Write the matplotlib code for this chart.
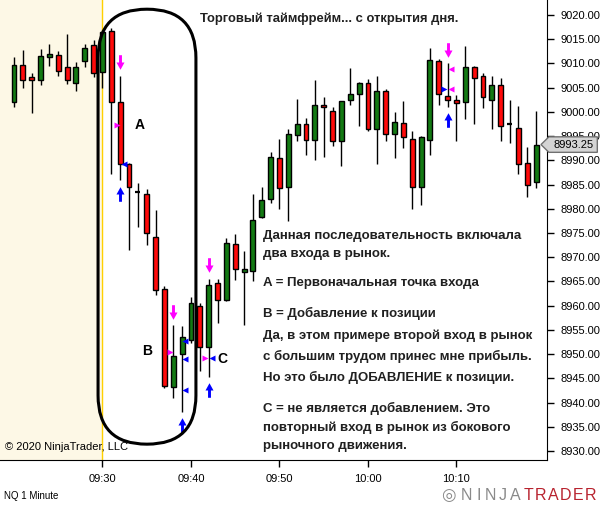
import numpy as np
import matplotlib
matplotlib.use("Agg")
import matplotlib.pyplot as plt
from matplotlib.path import Path
from matplotlib.patches import FancyBboxPatch, Polygon

plt.rcParams['font.family'] = ['Liberation Sans', 'DejaVu Sans']

# ============================================
# DATA  (NQ 1 minute, minutes relative to 09:30)
# ============================================
minutes = list(range(-10, 50))

opens = [9002, 9009.75, 9007.25, 9006.5, 9011.25, 9011.75, 9009.25, 9006, 9010.5, 9013.75,
         9008.25, 9016.75, 9002, 8989.25, 8983.5, 8983, 8974.25, 8963.5, 8943.25, 8950,
         8953, 8960, 8951.5, 8964.75, 8961.25, 8972.75, 8967, 8967.25, 8978.25, 8982,
         8990.5, 8984.5, 8995.25, 8997.5, 8994.25, 9001.5, 9000.25, 8994, 9002.5, 9003.75,
         9006, 8996.5, 9004.25, 8995.5, 8997.75, 8994.5, 8984.5, 8994.25, 9010.5, 9003.25,
         9002.5, 9002, 9009.25, 9007.5, 9002.5, 9005.5, 8997.5, 8996.75, 8989.5, 8985.5]
highs = [9011.25, 9012.75, 9008, 9013, 9014, 9012.5, 9016, 9010.25, 9014, 9014.75,
         9017, 9017.25, 9007.5, 8989.5, 8985.25, 8984, 8979.75, 8964, 8956, 8955.75,
         8961.75, 8960.5, 8965.5, 8965.5, 8974, 8974.75, 8971.25, 8983, 8984.5, 8991.75,
         8994.5, 8996.5, 9002.75, 8998.75, 9006.5, 9003, 9001, 9002.25, 9009, 9006.25,
         9006.75, 9007.5, 9004.75, 9000, 9002.25, 8996, 8995, 9013.25, 9011, 9010,
         9003.5, 9013.5, 9009.5, 9008, 9007.5, 9007, 9002.5, 9001.25, 8992.75, 9000.25]
lows = [9001, 9005, 8999.75, 9005.5, 9009.5, 9007.5, 9005.75, 9004.25, 9009.25, 9007.25,
        9005, 8987.25, 8986, 8971.5, 8976.25, 8972.5, 8962.25, 8943, 8941, 8938,
        8952.25, 8946.5, 8945.25, 8956.5, 8961, 8965.25, 8956, 8965, 8978, 8981.25,
        8980, 8977.5, 8994, 8991, 8990, 8990.75, 8993, 8988.75, 9001.5, 8997,
        8996, 8989.25, 8994, 8990.5, 8992.5, 8980, 8980.75, 8991, 9001.5, 9001,
        8994, 8998.5, 8997.5, 9000.75, 8996.5, 8994, 8993.5, 8987.25, 8982.5, 8984.25]
closes = [9009.75, 9006.5, 9006.5, 9011.5, 9012, 9008.5, 9006.5, 9009.25, 9013.25, 9008,
          9016.5, 9002, 8989.25, 8984.5, 8983.5, 8975, 8963.25, 8943.5, 8949.5, 8953.5,
          8960.5, 8951.5, 8964.25, 8961.25, 8973, 8967.5, 8967.5, 8977.75, 8981.75, 8990.75,
          8984.25, 8995.5, 8997.5, 8994.25, 9001.5, 9001, 8994, 9002.25, 9003.75, 9006,
          8996.5, 9004.25, 8995.5, 8998, 8994.75, 8984.5, 8994.75, 9010.75, 9003.75, 9002.5,
          9001.75, 9009.25, 9007, 9003, 9005.5, 8997, 8997.5, 8989.25, 8985, 8993.25]

# trade markers: minute of bar, price, kind
down_arrow_min = [2, 8, 12, 39]
down_arrow_px = [9010.3, 8958.7, 8968.4, 9012.8]
up_arrow_min = [2, 9, 12, 39]
up_arrow_px = [8983.0, 8935.4, 8942.6, 8998.3]
# (minute, price, marker, side, colour)
fills = [
    (2, 8997.3, '>', -1, 'magenta'),
    (2, 8989.2, '<', 1, 'blue'),
    (8, 8950.5, '>', -1, 'magenta'),
    (9, 8952.7, '<', 1, 'blue'),
    (9, 8948.9, '<', 1, 'blue'),
    (9, 8942.6, '<', 1, 'blue'),
    (12, 8949.25, '>', -1, 'magenta'),
    (12, 8949.25, '<', 1, 'blue'),
    (39, 9008.8, '<', 1, 'magenta'),
    (39, 9004.7, '>', -1, 'blue'),
    (39, 9004.7, '<', 1, 'magenta'),
]

tick_minutes = [0, 10, 20, 30, 40]
tick_labels = ['09:30', '09:40', '09:50', '10:00', '10:10']
price_ticks = np.arange(8930, 9021, 5)
last_price = 8993.25

notes = [
    "Данная последовательность включала",
    "два входа в рынок.",
    "A = Первоначальная точка входа",
    "B = Добавление к позиции",
    "Да, в этом примере второй вход в рынок",
    "с большим трудом принес мне прибыль.",
    "Но это было ДОБАВЛЕНИЕ к позиции.",
    "C = не является добавлением. Это",
    "повторный вход в рынок из бокового",
    "рыночного движения.",
]
notes_y = [236, 254, 283, 313, 336, 356, 377, 408, 427, 446]

# ============================================
# FIGURE
# ============================================
W, H = 603, 507
fig = plt.figure(figsize=(W / 100, H / 100), dpi=100)
ax = fig.add_axes([0, 47 / H, 547 / W, 460 / H])
ax.set_xlim(-11.58, 50.23)
ax.set_ylim(8928.13, 9023.1)

# pre-open shading
ax.axvspan(-11.58, 0, color='#fdf8e6', zorder=0)
ax.axvline(0, color='#ffd000', lw=1, zorder=1)

green = '#137a13'
red = '#ff0a0a'
bw = 0.55
for m, o, h, l, c in zip(minutes, opens, highs, lows, closes):
    ax.vlines(m, l, h, color='black', lw=1, zorder=2)
    if o == c:
        ax.hlines(o, m - bw / 2, m + bw / 2, color='black', lw=1.6, zorder=3)
    else:
        col = green if c > o else red
        ax.bar(m, abs(c - o), bottom=min(o, c), width=bw, color=col,
               edgecolor='black', lw=1, zorder=3)

# arrow marker path
arrow_down = Path([(-0.2, 1), (0.2, 1), (0.2, 0), (0.55, 0), (0, -1), (-0.55, 0), (-0.2, 0), (-0.2, 1)],
                  [Path.MOVETO] + [Path.LINETO] * 6 + [Path.CLOSEPOLY])
arrow_up = Path([(x, -y) for x, y in arrow_down.vertices], arrow_down.codes)

ax.plot(down_arrow_min, down_arrow_px, ls='none', marker=arrow_down, ms=10.5,
        color='magenta', mec='none', zorder=5)
ax.plot(up_arrow_min, up_arrow_px, ls='none', marker=arrow_up, ms=10.5,
        color='blue', mec='none', zorder=5)
for m, p, mk, side, col in fills:
    ax.plot(m + side * 0.38, p, ls='none', marker=mk, ms=5, color=col, mec='none', zorder=5)

# rounded outline around the move
stadium = FancyBboxPatch((-0.5, 8931.4), 11.06, 89.8,
                         boxstyle="round,pad=0,rounding_size=5.5",
                         mutation_aspect=1.83, fill=False, ec='black', lw=2.2, zorder=6)
ax.add_patch(stadium)

ax.text(4.2, 8997.3, 'A', fontsize=10, fontweight='bold', ha='center', va='center', zorder=7)
ax.text(5.0, 8950.7, 'B', fontsize=10, fontweight='bold', ha='center', va='center', zorder=7)
ax.text(13.6, 8949.0, 'C', fontsize=10, fontweight='bold', ha='center', va='center', zorder=7)

# axes styling
for s in ['left', 'top']:
    ax.spines[s].set_visible(False)
ax.spines['right'].set_color('black')
ax.spines['bottom'].set_color('black')
ax.yaxis.tick_right()
ax.set_yticks(price_ticks)
ax.set_yticklabels([f"{v:.2f}" for v in price_ticks], fontsize=8)
ax.set_xticks(tick_minutes)
ax.set_xticklabels(tick_labels, fontsize=8)
ax.tick_params(axis='both', length=5, width=1, color='black', pad=5)

# last price marker
tr = ax.get_yaxis_transform()
dy = 1.6
poly = Polygon([(0.989, last_price), (1.0035, last_price + dy), (1.092, last_price + dy),
                (1.092, last_price - dy), (1.0035, last_price - dy)],
               closed=True, transform=tr, fc='#d4d4d4', ec='#707070', lw=1,
               clip_on=False, zorder=8)
ax.add_patch(poly)
ax.text(1.048, last_price, f"{last_price:.2f}", transform=tr, fontsize=8,
        ha='center', va='center', clip_on=False, zorder=9)

# texts
fig.text(200 / W, 1 - 19 / H, "Торговый таймфрейм... с открытия дня.",
         fontsize=9.4, fontweight='bold', ha='left', va='center', color='#202020')
for line, yp in zip(notes, notes_y):
    fig.text(263 / W, 1 - yp / H, line, fontsize=9.5, fontweight='bold',
             ha='left', va='center', color='#202020')

fig.text(5 / W, 1 - 447 / H, "© 2020 NinjaTrader, LLC", fontsize=8, ha='left', va='center')
fig.text(4 / W, 1 - 496 / H, "NQ 1 Minute", fontsize=7, ha='left', va='center')

# logo
for i, ch in enumerate("NINJATRADER"):
    tx = 466 + i * 12.4
    if i < 5:
        fig.text(tx / W, 1 - 496 / H, ch, fontsize=11.5, color='#8a8a8a',
                 ha='center', va='center')
    else:
        fig.text(tx / W, 1 - 496 / H, ch, fontsize=11.5, color='#b8232f',
                 ha='center', va='center')
fig.text(448 / W, 1 - 496 / H, "\u25CE", fontsize=12, color='#8a8a8a', ha='center', va='center')

fig.savefig("out.png", dpi=100)
